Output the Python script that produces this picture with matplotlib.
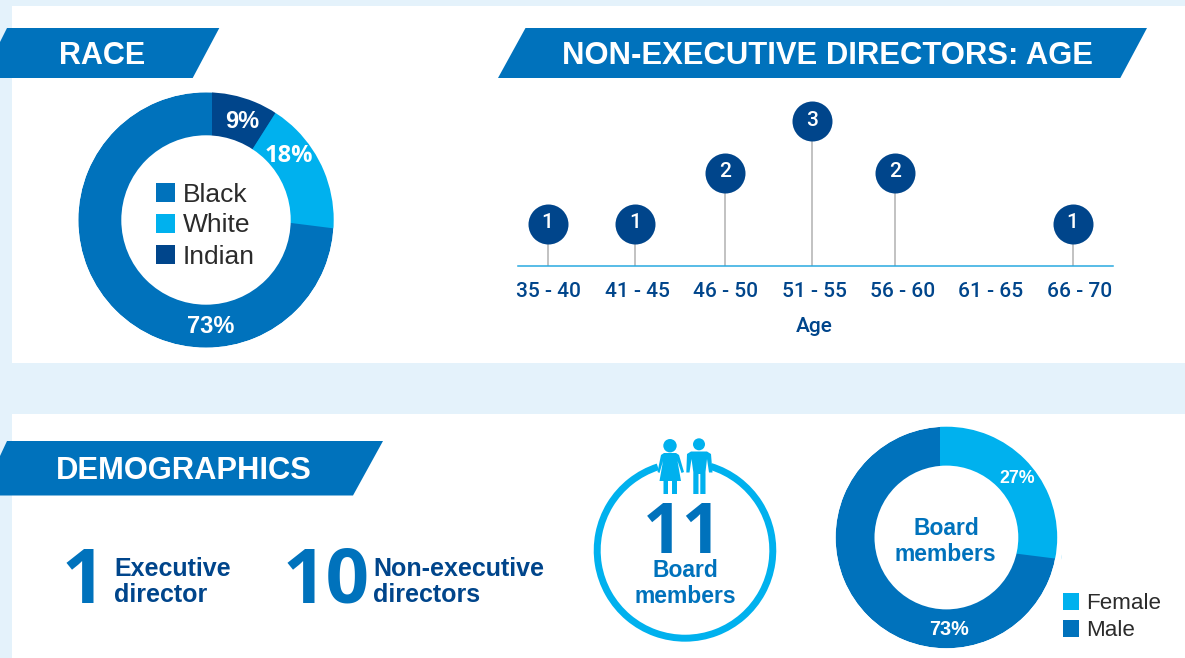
import matplotlib
matplotlib.use("Agg")
import matplotlib.pyplot as plt
from matplotlib.patches import Polygon, Rectangle, Circle, Arc, Wedge

# ---------- data ----------
race_labels = ["Indian", "White", "Black"]
race_values = [9, 18, 73]
race_legend = ["Black", "White", "Indian"]
age_groups = ["35 - 40", "41 - 45", "46 - 50", "51 - 55", "56 - 60", "61 - 65", "66 - 70"]
age_counts = [1, 1, 2, 3, 2, 0, 1]
gender_labels = ["Female", "Male"]
gender_values = [27, 73]
executive_count = 1
non_executive_count = 10
board_count = 11

# ---------- style ----------
W, H = 1185, 658
BG = "#E4F2FB"
BLUE = "#0072BC"
SKY = "#00B1EE"
NAVY = "#00458B"
GREY = "#BDBDBD"
INK = "#2B2B2B"
SANS = "Liberation Sans"
DIN = "Roboto"
NUM = "Open Sans"

fig = plt.figure(figsize=(W / 100, H / 100), dpi=100, facecolor=BG)
ax = fig.add_axes([0, 0, 1, 1])


def Y(p):
    return H - p


def restore():
    ax.set_xlim(0, W)
    ax.set_ylim(0, H)
    ax.set_aspect("auto")
    ax.axis("off")


def text(x, y, s, size, color, weight="bold", ha="center", va="baseline", family=SANS):
    ax.text(x, Y(y), s, fontsize=size, color=color, fontweight=weight, ha=ha, va=va,
            family=family, zorder=10)


def banner(points, label, cx, cy, size, family=SANS):
    ax.add_patch(Polygon([(x, Y(y)) for x, y in points], closed=True, fc=BLUE, ec="none", zorder=3))
    text(cx, cy, label, size, "white", family=family)


def donut(values, colors, ring_c, r_out, r_in, wedge_c, wedge_r, base):
    rc = (ring_c[0], Y(ring_c[1]))
    wc = (wedge_c[0], Y(wedge_c[1]))
    ax.pie([sum(values)], colors=[base], center=rc, radius=r_out, frame=True)
    top, _ = ax.pie(values, colors=colors, center=wc, radius=wedge_r,
                    startangle=90, counterclock=False, frame=True)
    for w, c in zip(top, colors):
        if c == base:
            w.set_visible(False)
    # white collar trims the offset slices back onto the ring's outline
    ax.add_patch(Wedge(rc, r_out + 6, 0, 360, width=6, fc="white", ec="none", zorder=2))
    ax.add_patch(Circle(rc, r_in, fc="white", ec="none", zorder=5))


# panels
ax.add_patch(Rectangle((12, Y(363)), W - 12, 357, fc="white", ec="none", zorder=1))
ax.add_patch(Rectangle((12, 0), W - 12, H - 414, fc="white", ec="none", zorder=1))

# banners
banner([(7, 28), (219.3, 28), (192.7, 78), (0, 78), (0, 42)], "RACE", 102, 64, 22)
banner([(525.5, 28), (1147, 28), (1120.3, 78), (498, 78)],
       "NON-EXECUTIVE DIRECTORS: AGE", 828, 64, 22.3)
banner([(7, 441), (383, 441), (353, 495.5), (0, 495.5), (0, 456)], "DEMOGRAPHICS", 184, 479, 22.2)

# race donut
race_colors = [NAVY, SKY, BLUE]
donut(race_values, race_colors, (206, 220), 127.7, 84.7, (212, 213), 123, BLUE)
for (x, y), v in zip([(242, 128), (289, 162), (211, 333)], race_values):
    text(x, y, f"{v}%", 17, "white", family=NUM if v == 18 else SANS)
for i, (lab, col) in enumerate(zip(race_legend, [BLUE, SKY, NAVY])):
    top = 183 + 31 * i
    ax.add_patch(Rectangle((156, Y(top + 19)), 19, 19, fc=col, ec="none", zorder=8))
    text(183, top + 18.5, lab, 19, INK, weight="normal", ha="left")

# headline counts
text(83, 602.7, str(executive_count), 55, BLUE, family=NUM)
text(326, 602.7, str(non_executive_count), 55, BLUE, family=NUM)
text(114, 576, "Executive", 18, NAVY, ha="left")
text(114, 602.3, "director", 18, NAVY, ha="left")
text(373, 576, "Non-executive", 18, NAVY, ha="left")
text(373, 602.3, "directors", 18, NAVY, ha="left")

# board ring with figures
ax.add_patch(Arc((685, Y(550.4)), 175.6, 175.6, theta1=108, theta2=433, lw=5, color=SKY, zorder=4))


def shape(pts):
    ax.add_patch(Polygon([(x, Y(y)) for x, y in pts], closed=True, fc=SKY, ec="none", zorder=6))


ax.add_patch(Circle((670, Y(445.7)), 6.7, fc=SKY, ec="none", zorder=6))
shape([(664, 453), (676, 453), (679, 455), (684, 472), (681.5, 473), (677.5, 461), (681, 481),
       (677, 481), (677, 494), (672, 494), (672, 481), (668, 481), (668, 494), (663.5, 494),
       (663.5, 481), (659.5, 481), (663, 461), (659.5, 473), (657.5, 472), (661, 455)])
ax.add_patch(Circle((699, Y(444.3)), 6, fc=SKY, ec="none", zorder=6))
shape([(691, 451.5), (707, 451.5), (711, 454), (712.5, 472.5), (709, 472.5), (707, 459), (705.5, 472),
       (705.5, 494), (700.3, 494), (700.3, 474), (698.5, 474), (698.5, 494), (693.3, 494),
       (693.3, 472), (691.5, 459), (689.5, 472.5), (686.3, 472.5), (687, 454)])
text(682.5, 552.7, str(board_count), 50, BLUE, family=NUM)
text(685, 576.7, "Board", 16.5, BLUE)
text(685, 602.7, "members", 16.5, BLUE)

# gender donut
donut(gender_values, [SKY, BLUE], (946.4, 537.5), 110.8, 71.9, (940, 544), 122, BLUE)
text(1016.7, 483, f"{gender_values[0]}%", 12.8, "white")
text(948.6, 635, f"{gender_values[1]}%", 14.2, "white")
text(946.6, 535, "Board", 16.5, BLUE)
text(945.5, 560.7, "members", 16.5, BLUE)
for i, (lab, col) in enumerate(zip(gender_labels, [SKY, BLUE])):
    top = 593 + 27.3 * i
    ax.add_patch(Rectangle((1062.6, Y(top + 16.8)), 16.2, 16.8, fc=col, ec="none", zorder=8))
    text(1086.3, top + 15.8, lab, 16.1, INK, weight="normal", ha="left")

restore()

# ---------- lollipop chart ----------
px0, px1, py_base, py_top = 517.5, 1112.8, 265.7, 100.0
step, first = 87.5, 547.5
unit, zero = 51.0, 274.5
lol = fig.add_axes([px0 / W, (H - py_base) / H, (px1 - px0) / W, (py_base - py_top) / H])
lol.patch.set_alpha(0)
lol.set_xlim((px0 - first) / step, (px1 - first) / step)
lol.set_ylim((zero - py_base) / unit, (zero - py_top) / unit)
nudge = [0, 0, 0.03, 0.025, -0.032, 0, 0]
for i, (n, d) in enumerate(zip(age_counts, nudge)):
    if n == 0:
        continue
    lol.plot([i + d, i + d], [lol.get_ylim()[0], n], color=GREY, lw=1.3, zorder=2)
    lol.plot(i + d, n, "o", ms=28.8, mfc=NAVY, mec="none", zorder=3, clip_on=False)
    lol.text(i + d, n + 0.02, str(n), color="white", fontsize=15, family=DIN, fontweight="medium",
             ha="center", va="center", zorder=4)
for s in ("top", "left", "right"):
    lol.spines[s].set_visible(False)
lol.spines["bottom"].set_color("#29A9E0")
lol.spines["bottom"].set_linewidth(1.1)
lol.set_yticks([])
lol.set_xticks([(548.5 + 88.5 * i - first) / step for i in range(len(age_groups))], age_groups)
lol.tick_params(axis="x", length=0, pad=11.6, labelcolor=NAVY)
for t in lol.get_xticklabels():
    t.set_family(DIN)
    t.set_fontsize(15)
    t.set_fontweight("medium")
lol.set_xlabel("Age", color=NAVY, family=DIN, fontsize=15, fontweight="medium")
lol.xaxis.set_label_coords((814 - px0) / (px1 - px0), -(327 - py_base) / (py_base - py_top))
lol.xaxis.label.set_va("center")

fig.savefig("out.png", dpi=100, facecolor=BG)
